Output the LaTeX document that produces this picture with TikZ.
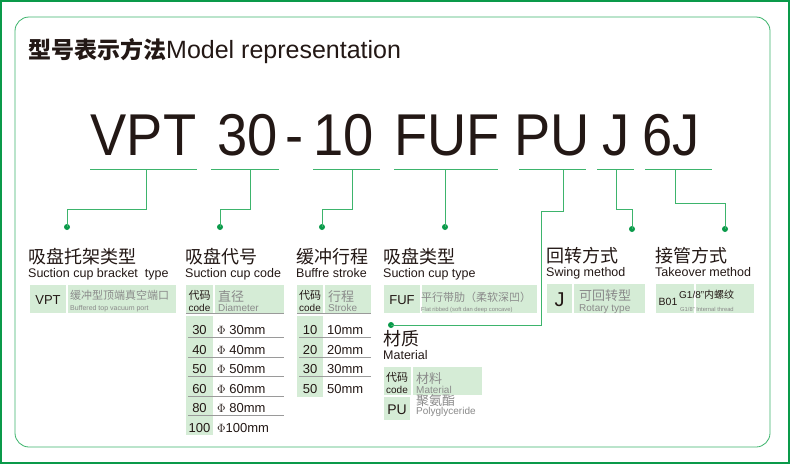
\documentclass[tikz,border=0pt]{standalone}
\usepackage{fontspec}
\setmainfont{Liberation Sans}
\newfontfamily\cjk{Noto Sans CJK SC}
\definecolor{gline}{HTML}{3DB46C}
\definecolor{gdot}{HTML}{0A9A4A}
\definecolor{gfill}{HTML}{D5ECD6}
\definecolor{txt}{HTML}{231815}
\definecolor{gtxt}{HTML}{8A8A8A}
\definecolor{rule}{HTML}{9A9A9A}
\begin{document}
\begin{tikzpicture}[x=1pt,y=-1pt,
  conn/.style={gline,line width=0.8pt},
  dotn/.style={circle,fill=gdot,inner sep=0pt,minimum size=6pt},
  big/.style={anchor=base,font=\fontsize{59}{59}\selectfont,text=txt,xscale=0.92,inner sep=0pt},
  ttl/.style={anchor=base west,font=\cjk\fontsize{18}{18}\selectfont,text=txt,inner sep=0pt},
  sub/.style={anchor=base west,font=\fontsize{12.5}{12.5}\selectfont,text=txt,inner sep=0pt},
  cell/.style={fill=gfill},
  code/.style={anchor=base,font=\fontsize{13}{13}\selectfont,text=txt,inner sep=0pt},
  val/.style={anchor=base west,font=\fontsize{13}{13}\selectfont,text=txt,inner sep=0pt},
  gr/.style={anchor=base west,font=\cjk\fontsize{12}{12}\selectfont,text=gtxt,inner sep=0pt},
  grs/.style={anchor=base west,font=\fontsize{7}{7}\selectfont,text=gtxt,inner sep=0pt},
  sm/.style={anchor=base,font=\fontsize{10}{10}\selectfont,text=txt,inner sep=0pt},
  smc/.style={anchor=base,font=\cjk\fontsize{11}{11}\selectfont,text=txt,inner sep=0pt},
  hl/.style={rule,line width=0.8pt}]
\useasboundingbox (0,0) rectangle (790,464);
\fill[white] (0,0) rectangle (790,464);
\draw[gdot,line width=2pt] (1,1) rectangle (789,463);
\draw[gline,line width=0.8pt,rounded corners=14pt] (15,17) rectangle (770,447);
% title
\node[anchor=base west,inner sep=0pt,text=txt] (title) at (28,58) {{\cjk\bfseries\fontsize{23}{23}\selectfont 型号表示方法}{\fontsize{25}{25}\selectfont Model representation}};
% big code
\node[big] (c1) at (143.5,155) {VPT};
\node[big] (c2) at (248,155) {30};
\node[big] (c3) at (295,155) {-};
\node[big] (c4) at (344,155) {10};
\node[big] (c5) at (447,155) {FUF};
\node[big] (c6) at (552,155) {PU};
\node[big] (c7) at (616,155) {J};
\node[big] (c8) at (671,155) {6J};
% underlines
\foreach \a/\b in {90/197,211/279,313/380,394/498,519/586,597/634,645/712}
  \draw[conn] (\a,169) -- (\b,169);
\coordinate (p1) at (146,169); \coordinate (p2) at (250,169); \coordinate (p3) at (352,169);
\coordinate (p4) at (445,169); \coordinate (p5) at (563,169); \coordinate (p6) at (616,169); \coordinate (p7) at (675,169);
\node[dotn] (d1) at (67,227) {}; \node[dotn] (d2) at (220,227) {}; \node[dotn] (d3) at (322,227) {};
\node[dotn] (d4) at (445,227) {}; \node[dotn] (d5) at (391,325) {}; \node[dotn] (d6) at (632,229) {}; \node[dotn] (d7) at (725,229) {};
\draw[conn] (p1) |- (67,209) -- (d1.center);
\draw[conn] (p2) |- (220,209) -- (d2.center);
\draw[conn] (p3) |- (322,209) -- (d3.center);
\draw[conn] (p4) -- (d4.center);
\draw[conn] (p5) |- (541,211) |- (d5.center);
\draw[conn] (p6) |- (632,209) -- (d6.center);
\draw[conn] (p7) |- (725,203) -- (d7.center);
% headings
\node[ttl] (h1) at (28,263) {吸盘托架类型}; \node[sub] (s1) at (28,277) {Suction cup bracket\ \ type};
\node[ttl] (h2) at (185,263) {吸盘代号}; \node[sub] (s2) at (185,277) {Suction cup code};
\node[ttl] (h3) at (296,263) {缓冲行程}; \node[sub] (s3) at (296,277) {Buffre stroke};
\node[ttl] (h4) at (383,263) {吸盘类型}; \node[sub] (s4) at (383,277) {Suction cup type};
\node[ttl] (h5) at (546,262) {回转方式}; \node[sub] (s5) at (546,276) {Swing method};
\node[ttl] (h6) at (655,262) {接管方式}; \node[sub] (s6) at (655,276) {Takeover method};
\node[ttl] (h7) at (383,345) {材质}; \node[sub] (s7) at (383,359) {Material};
% table 1
\fill[cell] (30,285) rectangle (66,313); \fill[cell] (68,285) rectangle (176,313);
\node[code] (t1a) at (48,304) {VPT};
\node[gr,font=\cjk\fontsize{11}{11}\selectfont] (t1b) at (70,299) {缓冲型顶端真空端口};
\node[grs] (t1c) at (70,310) {Buffered top vacuum port};
% table 2
\fill[cell] (186,285) rectangle (213,313); \fill[cell] (215,285) rectangle (284,313);
\fill[cell] (186,316) rectangle (213,435);
\draw[hl] (186,313.5) -- (284,313.5);
\node[smc] (t2a) at (199.5,299) {代码}; \node[sm] (t2b) at (199.5,311) {code};
\node[gr,font=\cjk\fontsize{13}{13}\selectfont] (t2c) at (218,301) {直径}; \node[gr,font=\fontsize{10}{10}\selectfont] (t2d) at (218,311) {Diameter};
\foreach \c/\v/\y in {30/\ensuremath{\Phi}\ 30mm/334,40/\ensuremath{\Phi}\ 40mm/354,50/\ensuremath{\Phi}\ 50mm/373,60/\ensuremath{\Phi}\ 60mm/393,80/\ensuremath{\Phi}\ 80mm/412}{
  \node[code] at (199.5,\y) {\c}; \node[val] at (217,\y) {\v};
  \draw[hl] (188,\y+3.5) -- (284,\y+3.5);}
\node[code] (t2r) at (199.5,432) {100}; \node[val] (t2v) at (217,432) {\ensuremath{\Phi}100mm};
% table 3
\fill[cell] (297,285) rectangle (323,313); \fill[cell] (325,285) rectangle (371,313);
\fill[cell] (297,316) rectangle (323,397);
\draw[hl] (297,313.5) -- (371,313.5);
\node[smc] (t3a) at (310,299) {代码}; \node[sm] (t3b) at (310,311) {code};
\node[gr,font=\cjk\fontsize{13}{13}\selectfont] (t3c) at (328,301) {行程}; \node[gr,font=\fontsize{10}{10}\selectfont] (t3d) at (328,311) {Stroke};
\foreach \c/\y in {10/334,20/354,30/373}{
  \node[code] at (310,\y) {\c}; \node[val] at (327,\y) {\c mm};
  \draw[hl] (299,\y+3.5) -- (371,\y+3.5);}
\node[code] (t3r) at (310,393) {50}; \node[val] (t3v) at (327,393) {50mm};
% table 4
\fill[cell] (384,285) rectangle (420,313); \fill[cell] (422,285) rectangle (537,313);
\node[code] (t4a) at (402,304) {FUF};
\node[gr,font=\cjk\fontsize{11}{11}\selectfont] (t4b) at (421,301) {平行带肋（柔软深凹）};
\node[grs,font=\fontsize{5.8}{6}\selectfont] (t4c) at (421,311) {Flat ribbed (soft dan deep concave)};
% material
\fill[cell] (384,367) rectangle (411,395); \fill[cell] (413,367) rectangle (482,395);
\fill[cell] (384,397) rectangle (410,420);
\node[smc] (t5a) at (397,381) {代码}; \node[sm] (t5b) at (397,393) {code};
\node[gr,font=\cjk\fontsize{13}{13}\selectfont] (t5c) at (416,383) {材料}; \node[gr,font=\fontsize{10}{10}\selectfont] (t5d) at (416,393) {Material};
\node[code,font=\fontsize{14}{14}\selectfont] (t5e) at (397,414) {PU};
\node[gr,font=\cjk\fontsize{13}{13}\selectfont] (t5f) at (416,405) {聚氨酯}; \node[gr,font=\fontsize{10}{10}\selectfont] (t5g) at (416,414) {Polyglyceride};
% J table
\fill[cell] (547,284) rectangle (572,313); \fill[cell] (574,284) rectangle (645,313);
\node[code,font=\fontsize{20}{20}\selectfont] (t6a) at (559.5,306) {J};
\node[gr,font=\cjk\fontsize{13}{13}\selectfont] (t6b) at (579,300) {可回转型}; \node[gr,font=\fontsize{10}{10}\selectfont] (t6c) at (579,311) {Rotary type};
% B01 table
\fill[cell] (656,284) rectangle (694,313); \fill[cell] (696,284) rectangle (754,313);
\node[code,font=\fontsize{10.5}{10.5}\selectfont] (t7a) at (668,305) {B01};
\node[anchor=base west,inner sep=0pt,text=txt,font=\fontsize{10}{10}\selectfont] (t7b) at (679,298) {G1/8"{\cjk 内螺纹}};
\node[grs,font=\fontsize{5.8}{6}\selectfont] (t7c) at (680,311) {G1/8" Internal thread};
\end{tikzpicture}
\end{document}
